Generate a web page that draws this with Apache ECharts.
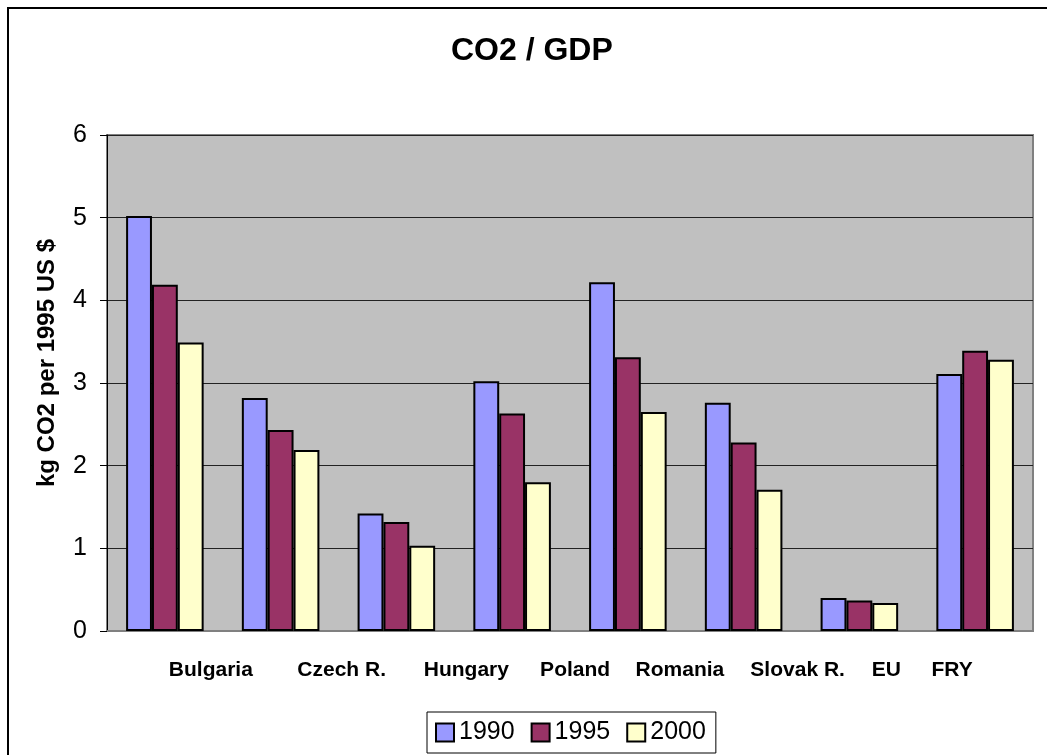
<!DOCTYPE html>
<html>
<head>
<meta charset="utf-8">
<title>CO2 / GDP</title>
<script src="https://cdn.jsdelivr.net/npm/echarts@6/dist/echarts.min.js"></script>
<style>
  html, body { margin: 0; padding: 0; background: #fff; }
  #chart { width: 1047px; height: 755px; }
</style>
</head>
<body>
<div id="chart"></div>
<script>
// data
const categories = ['Bulgaria', 'Czech R.', 'Hungary', 'Poland', 'Romania', 'Slovak R.', 'EU', 'FRY']
const years = ['1990', '1995', '2000']
const values1990 = [5.02, 2.82, 1.42, 3.02, 4.22, 2.76, 0.40, 3.11]
const values1995 = [4.19, 2.43, 1.32, 2.63, 3.31, 2.28, 0.37, 3.39]
const values2000 = [3.49, 2.19, 1.03, 1.80, 2.65, 1.71, 0.34, 3.28]
const yTicks = [0, 1, 2, 3, 4, 5, 6]

const font = 'Liberation Sans, Arial, sans-serif'
const colors = ['#9999FF', '#993366', '#FFFFCC']

// the category labels sit off-centre in the original, shift each one
const labelStyle = { fontFamily: font, fontSize: 21, fontWeight: 'bold', color: '#000' }
const rich = {
  l0: { ...labelStyle, padding: [0, 0, 0, 92] },
  l1: { ...labelStyle, padding: [0, 0, 0, 122] },
  l2: { ...labelStyle, padding: [0, 0, 0, 140] },
  l3: { ...labelStyle, padding: [0, 0, 0, 126] },
  l4: { ...labelStyle, padding: [0, 0, 0, 104] },
  l5: { ...labelStyle, padding: [0, 0, 0, 108] },
  l6: { ...labelStyle, padding: [0, 0, 0, 54] },
  l7: { ...labelStyle, padding: [0, 46, 0, 0] }
}

const seriesValues = [values1990, values1995, values2000]

const chart = echarts.init(document.getElementById('chart'))
chart.setOption({
  animation: false,
  color: colors,
  title: {
    text: 'CO2 / GDP',
    left: 446,
    top: 30,
    textStyle: { fontFamily: font, fontSize: 32, fontWeight: 'bold', color: '#000' }
  },
  graphic: [
    {
      type: 'rect',
      shape: { x: 8, y: 8, width: 1200, height: 900 },
      style: { fill: 'none', stroke: '#000', lineWidth: 2 },
      silent: true
    }
  ],
  legend: {
    data: years,
    left: 427,
    top: 712,
    icon: 'rect',
    itemWidth: 18,
    itemHeight: 18,
    itemGap: 16,
    padding: [8, 10, 8, 8],
    borderColor: '#000',
    borderWidth: 1,
    textStyle: { fontFamily: font, fontSize: 25, color: '#000' }
  },
  grid: {
    left: 107,
    right: 14,
    top: 135,
    bottom: 124,
    show: true,
    backgroundColor: '#C0C0C0',
    borderColor: '#808080',
    borderWidth: 2
  },
  xAxis: {
    type: 'category',
    data: categories,
    axisLine: { lineStyle: { color: '#808080', width: 2 } },
    axisTick: { show: false },
    axisLabel: {
      interval: 0,
      margin: 29,
      formatter: (value, idx) => '{l' + idx + '|' + value + '}',
      rich
    }
  },
  yAxis: {
    type: 'value',
    min: yTicks[0],
    max: yTicks[yTicks.length - 1],
    interval: 1,
    name: 'kg CO2 per 1995 US $',
    nameLocation: 'middle',
    nameGap: 48,
    nameTextStyle: {
      fontFamily: font, fontSize: 24, fontWeight: 'bold', color: '#000',
      padding: [0, 0, 0, 40]
    },
    axisLine: { show: true, lineStyle: { color: '#000', width: 1 } },
    axisTick: { show: true, length: 7, lineStyle: { color: '#000' } },
    axisLabel: { margin: 20, fontFamily: font, fontSize: 25, color: '#000' },
    splitLine: { lineStyle: { color: '#222', width: 1 } }
  },
  series: years.map((y, i) => ({
    name: y,
    type: 'bar',
    data: seriesValues[i],
    barGap: '0%',
    barCategoryGap: '33%',
    itemStyle: { color: colors[i], borderColor: '#000', borderWidth: 2 }
  }))
})
</script>
</body>
</html>
